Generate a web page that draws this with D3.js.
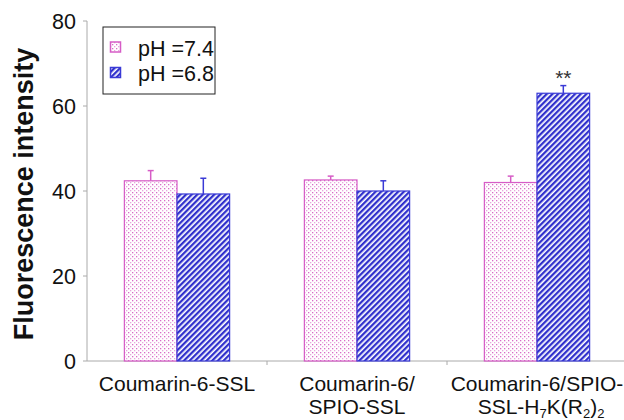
<!DOCTYPE html>
<html>
<head>
<meta charset="utf-8">
<script src="https://cdn.jsdelivr.net/npm/d3@7"></script>
<style>
  body { margin: 0; background: #fff; }
  text { font-family: "Liberation Sans", Arial, sans-serif; fill: #111; }
</style>
</head>
<body>
<svg width="624" height="420"></svg>
<script>
var categories = ["Coumarin-6-SSL", "Coumarin-6/SPIO-SSL", "Coumarin-6/SPIO-SSL-H7K(R2)2"];
var seriesNames = ["pH =7.4", "pH =6.8"];
var ph74 = [42.4, 42.6, 42.0];
var ph74err = [2.4, 0.9, 1.5];
var ph68 = [39.3, 40.0, 63.0];
var ph68err = [3.7, 2.4, 1.8];
var yTicks = [0, 20, 40, 60, 80];

var svg = d3.select("svg");
var x0 = 87, x1 = 627, yTop = 21, yBot = 361;
var fs = 21.5, fsx = 21;

var defs = svg.append("defs");
var dots = defs.append("pattern").attr("id", "dots").attr("patternUnits", "userSpaceOnUse")
    .attr("width", 4).attr("height", 4);
dots.append("rect").attr("width", 4).attr("height", 4).attr("fill", "#fff");
dots.append("rect").attr("x", 0).attr("y", 0).attr("width", 1.3).attr("height", 1.3).attr("fill", "#d86cc8");
dots.append("rect").attr("x", 2).attr("y", 2).attr("width", 1.3).attr("height", 1.3).attr("fill", "#e7a6dd");

var stripes = defs.append("pattern").attr("id", "stripes").attr("patternUnits", "userSpaceOnUse")
    .attr("width", 4).attr("height", 4).attr("patternTransform", "rotate(45)");
stripes.append("rect").attr("width", 4).attr("height", 4).attr("fill", "#fff");
stripes.append("rect").attr("width", 2.3).attr("height", 4).attr("fill", "#3030cc");

var xScale = d3.scaleBand().domain(categories).range([x0, x1]).paddingInner(0).paddingOuter(0);
var xSub = d3.scaleBand().domain([0, 1]).range([0, xScale.bandwidth()]).paddingInner(0).paddingOuter(0.71);
var yScale = d3.scaleLinear().domain([0, 80]).range([yBot, yTop]);

// axes
svg.append("line").attr("x1", x0).attr("x2", x0).attr("y1", yTop).attr("y2", yBot).attr("stroke", "#aaa");
svg.append("line").attr("x1", x0).attr("x2", 624).attr("y1", yBot).attr("y2", yBot).attr("stroke", "#aaa");
yTicks.forEach(function(t) {
  svg.append("line").attr("x1", x0 - 4).attr("x2", x0).attr("y1", yScale(t)).attr("y2", yScale(t)).attr("stroke", "#aaa");
  svg.append("text").attr("x", 76).attr("y", yScale(t) + 7.5).attr("text-anchor", "end")
    .attr("font-size", fs).text(t);
});
categories.forEach(function(c, i) {
  if (i > 0) svg.append("line").attr("x1", xScale(c)).attr("x2", xScale(c))
    .attr("y1", yBot).attr("y2", yBot + 4).attr("stroke", "#aaa");
});

var series = [
  {vals: ph74, err: ph74err, fill: "url(#dots)", stroke: "#d65cc6"},
  {vals: ph68, err: ph68err, fill: "url(#stripes)", stroke: "#3a3ad6"}
];

series.forEach(function(s, si) {
  categories.forEach(function(c, i) {
    var bx = xScale(c) + xSub(si), bw = xSub.bandwidth();
    var cx = bx + bw / 2;
    svg.append("rect").attr("x", bx).attr("y", yScale(s.vals[i])).attr("width", bw)
      .attr("height", yBot - yScale(s.vals[i])).attr("fill", s.fill)
      .attr("stroke", s.stroke).attr("stroke-width", 1.2);
    var et = yScale(s.vals[i] + s.err[i]);
    svg.append("line").attr("x1", cx).attr("x2", cx).attr("y1", yScale(s.vals[i])).attr("y2", et)
      .attr("stroke", s.stroke).attr("stroke-width", 1.5);
    svg.append("line").attr("x1", cx - 3).attr("x2", cx + 3).attr("y1", et).attr("y2", et)
      .attr("stroke", s.stroke).attr("stroke-width", 1.5);
  });
});

// significance
var sx = xScale(categories[2]) + xSub(1) + xSub.bandwidth() / 2;
svg.append("text").attr("x", sx).attr("y", yScale(ph68[2] + ph68err[2]) - 1).attr("text-anchor", "middle")
  .attr("font-size", 21).style("fill", "#333").text("**");

// x labels
function cxOf(i) { return xScale(categories[i]) + xScale.bandwidth() / 2; }
function lbl(i, line, y) {
  return svg.append("text").attr("text-anchor", "middle").attr("font-size", fsx)
    .attr("x", cxOf(i)).attr("y", y).text(line);
}
lbl(0, "Coumarin-6-SSL", 391);
lbl(1, "Coumarin-6/", 391);
lbl(1, "SPIO-SSL", 414);
lbl(2, "Coumarin-6/SPIO-", 391);
var l2 = svg.append("text").attr("text-anchor", "middle").attr("font-size", fsx)
  .attr("x", cxOf(2) + 4).attr("y", 414);
l2.append("tspan").text("SSL-H");
l2.append("tspan").attr("font-size", 13).attr("dy", 4).text("7");
l2.append("tspan").attr("dy", -4).text("K(R");
l2.append("tspan").attr("font-size", 13).attr("dy", 4).text("2");
l2.append("tspan").attr("dy", -4).text(")");
l2.append("tspan").attr("font-size", 13).attr("dy", 4).text("2");

// y title
svg.append("text").attr("transform", "translate(33,194) rotate(-90)").attr("text-anchor", "middle")
  .attr("font-size", 27).attr("font-weight", "bold").text("Fluorescence intensity");

// legend
svg.append("rect").attr("x", 103).attr("y", 27).attr("width", 112).attr("height", 67)
  .attr("fill", "#fff").attr("stroke", "#222").attr("stroke-width", 1);
series.forEach(function(s, si) {
  var ly = 42 + si * 25.5;
  svg.append("rect").attr("x", 110.5).attr("y", ly).attr("width", 10).attr("height", 10)
    .attr("fill", s.fill).attr("stroke", s.stroke).attr("stroke-width", 1.5);
  svg.append("text").attr("x", 138).attr("y", ly + 13.5).attr("font-size", fs).text(seriesNames[si]);
});
</script>
</body>
</html>
